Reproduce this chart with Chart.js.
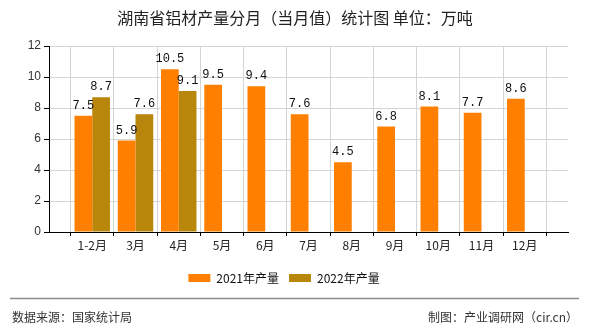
<!DOCTYPE html>
<html>
<head>
<meta charset="utf-8">
<script src="https://cdn.jsdelivr.net/npm/chart.js@4.4.1/dist/chart.umd.min.js"></script>
<style>
  html, body { margin: 0; padding: 0; background: #fff; }
  #wrap { width: 590px; height: 330px; }
</style>
</head>
<body>
<div id="wrap"><canvas id="chart1" width="590" height="330"></canvas></div>
<script>
// 月份与两年产量（万吨）
const months = ['1-2月', '3月', '4月', '5月', '6月', '7月', '8月', '9月', '10月', '11月', '12月'];
const output2021 = [7.5, 5.9, 10.5, 9.5, 9.4, 7.6, 4.5, 6.8, 8.1, 7.7, 8.6];
const output2022 = [8.7, 7.6, 9.1];
const yTicks = [0, 2, 4, 6, 8, 10, 12];

const titleText = '湖南省铝材产量分月（当月值）统计图 单位：万吨';
const sourceText = '数据来源：国家统计局';
const creditText = '制图：产业调研网（cir.cn）';

// 两端各留一个空位，让刻度落在格线上
const labels = [''].concat(months, ['']);
const pad = arr => [null].concat(months.map((m, i) => (i < arr.length ? arr[i] : null)), [null]);

const cjk = '"Noto Sans CJK SC", "Liberation Sans", sans-serif';

const decorPlugin = {
  id: 'decor',
  afterDatasetsDraw(chart) {
    const c = chart.ctx;
    c.save();
    c.font = '12px "Liberation Mono", monospace';
    c.fillStyle = '#111';
    c.textAlign = 'center';
    c.textBaseline = 'bottom';
    chart.data.datasets.forEach((ds, di) => {
      chart.getDatasetMeta(di).data.forEach((bar, i) => {
        const v = ds.data[i];
        if (v === null || v === undefined) return;
        c.fillText(v.toFixed(1), bar.x, bar.y - 4);
      });
    });
    c.restore();
  },
  afterDraw(chart) {
    const c = chart.ctx;
    c.save();
    // 标题
    c.font = '16px ' + cjk;
    c.fillStyle = '#222';
    c.textAlign = 'center';
    c.textBaseline = 'middle';
    c.fillText(titleText, 295, 18);
    // 底部分隔线与来源
    c.strokeStyle = '#8c8c8c';
    c.lineWidth = 1.5;
    c.beginPath();
    c.moveTo(10, 298.5);
    c.lineTo(579, 298.5);
    c.stroke();
    c.font = '12px ' + cjk;
    c.fillStyle = '#333';
    c.textAlign = 'left';
    c.fillText(sourceText, 12, 317);
    c.textAlign = 'right';
    c.fillText(creditText, 578, 317);
    c.restore();
  }
};

new Chart(document.getElementById('chart1'), {
  type: 'bar',
  data: {
    labels: labels,
    datasets: [{
      label: '2021年产量',
      data: pad(output2021),
      backgroundColor: '#ff8000'
    }, {
      label: '2022年产量',
      data: pad(output2022),
      backgroundColor: '#b8860b'
    }]
  },
  options: {
    responsive: false,
    animation: false,
    layout: { padding: { left: 0, right: 22, top: 46, bottom: 36 } },
    datasets: { bar: { categoryPercentage: 0.82, barPercentage: 1 } },
    scales: {
      x: {
        offset: false,
        grid: { color: '#d4d4d4', tickColor: '#000', tickLength: 4 },
        border: { color: '#000', width: 1 },
        ticks: {
          autoSkip: false, maxRotation: 0, padding: 2,
          color: '#222', font: { size: 12, family: cjk }
        },
        afterFit(scale) { scale.height = 30; }
      },
      y: {
        min: 0, max: 12,
        afterBuildTicks(scale) { scale.ticks = yTicks.map(v => ({ value: v })); },
        grid: { color: '#d4d4d4', tickColor: '#000', tickLength: 5 },
        border: { color: '#000', width: 1 },
        ticks: { padding: 3, color: '#333', font: { size: 12, family: '"Liberation Sans", sans-serif' } },
        afterFit(scale) { scale.width = 49; }
      }
    },
    plugins: {
      tooltip: { enabled: false },
      title: { display: false },
      legend: {
        display: true,
        position: 'bottom',
        labels: {
          boxWidth: 22, boxHeight: 8, padding: 10,
          color: '#111', font: { size: 12, family: cjk }
        }
      }
    }
  },
  plugins: [decorPlugin]
});
</script>
</body>
</html>
